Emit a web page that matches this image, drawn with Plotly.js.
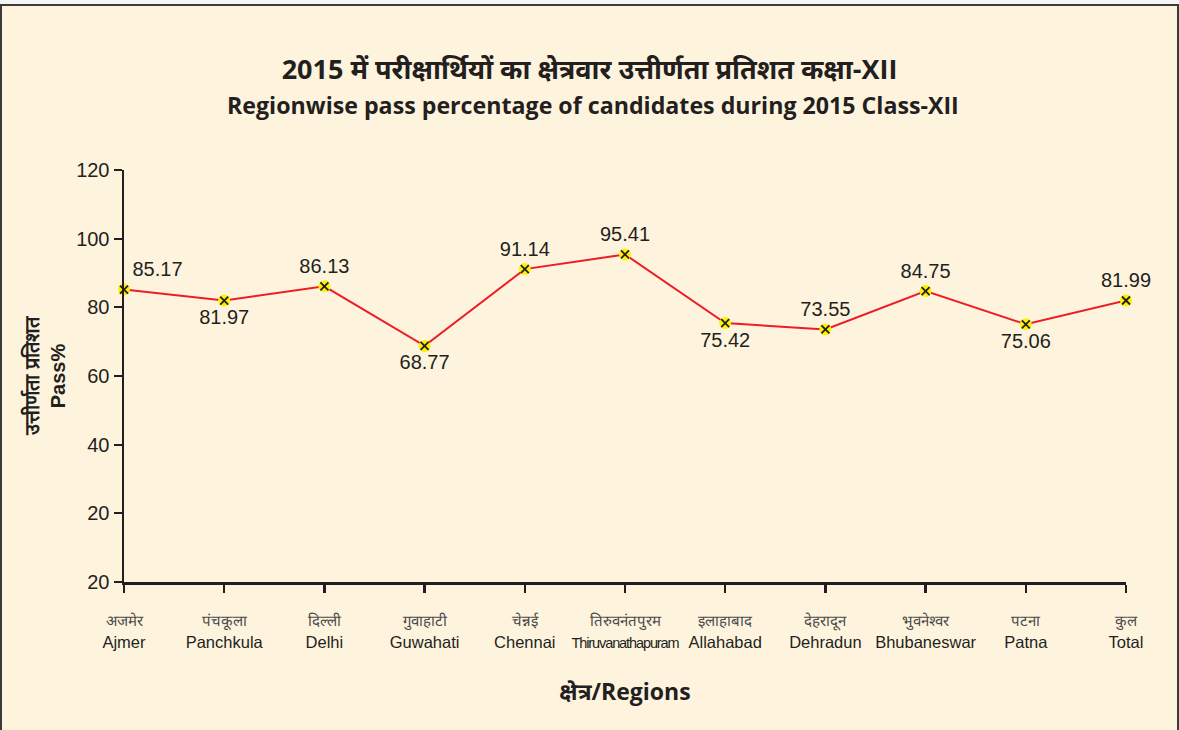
<!DOCTYPE html>
<html>
<head>
<meta charset="utf-8">
<script src="https://cdn.plot.ly/plotly-3.0.1.min.js"></script>
<style>
  html, body { margin: 0; padding: 0; background: #f4f4f4; }
  #wrap { position: relative; width: 1179px; height: 730px; overflow: hidden; }
  #frame { position: absolute; left: 0; top: 4px; width: 1175px; height: 740px;
           background: #fef4de; border: 2px solid #3a3a3a; }
  #chart { position: absolute; left: 0; top: 0; width: 1179px; height: 730px; }
</style>
</head>
<body>
<div id="wrap">
  <div id="frame"></div>
  <div id="chart"></div>
</div>
<script>
// ---- data ----
const regionsHindi = ["अजमेर", "पंचकूला", "दिल्ली", "गुवाहाटी", "चेन्नई", "तिरुवनंतपुरम", "इलाहाबाद", "देहरादून", "भुवनेश्वर", "पटना", "कुल"];
const regionsEnglish = ["Ajmer", "Panchkula", "Delhi", "Guwahati", "Chennai", "Thiruvanathapuram", "Allahabad", "Dehradun", "Bhubaneswar", "Patna", "Total"];
const passPercent = [85.17, 81.97, 86.13, 68.77, 91.14, 95.41, 75.42, 73.55, 84.75, 75.06, 81.99];
const labelPositions = ["top right", "bottom center", "top center", "bottom center", "top center", "top center", "bottom center", "top center", "top center", "bottom center", "top center"];
const yTickValues = [0, 20, 40, 60, 80, 100, 120];
const yTickLabels = ["20", "20", "40", "60", "80", "100", "120"];

const idx = regionsEnglish.map((_, i) => i);
const xTickText = regionsEnglish.map((e, i) => {
  const st = e.length > 12 ? "font-size:14.5px;letter-spacing:-1.1px;" : "";
  return "<span style=\"font-size:15px;color:#4a4a4a\">" + regionsHindi[i] + "</span><br><span style=\"" + st + "\">" + e + "</span>";
});

const textColor = "#231f20";
const sansFont = "Liberation Sans, Arial, sans-serif";
const boldFont = "Open Sans, Noto Sans, sans-serif";

const traces = [
  {
    x: idx, y: passPercent, type: "scatter", mode: "lines+markers+text",
    line: { color: "#ee1c25", width: 2 },
    marker: { symbol: "circle", size: 12, color: "#fff200", line: { width: 0 } },
    text: passPercent.map(v => v.toFixed(2)),
    textposition: labelPositions,
    textfont: { family: sansFont, size: 20, color: textColor },
    hoverinfo: "x+y", cliponaxis: false, showlegend: false
  },
  {
    x: idx, y: passPercent, type: "scatter", mode: "markers",
    marker: { symbol: "x-thin-open", size: 8, color: "#231f20", line: { width: 1.8, color: "#231f20" } },
    hoverinfo: "skip", cliponaxis: false, showlegend: false
  }
];

const layout = {
  width: 1179, height: 730,
  paper_bgcolor: "rgba(0,0,0,0)", plot_bgcolor: "rgba(0,0,0,0)",
  margin: { l: 124, r: 53, t: 170, b: 148, pad: 0 },
  font: { family: sansFont, color: textColor },
  title: {
    text: "<b>2015 में परीक्षार्थियों का क्षेत्रवार उत्तीर्णता प्रतिशत कक्षा-XII</b>",
    font: { family: boldFont, size: 27, color: textColor },
    x: 0.5, xref: "container", xanchor: "center",
    y: 1 - 70 / 730, yref: "container", yanchor: "middle"
  },
  annotations: [
    {
      text: "<b>Regionwise pass percentage of candidates during 2015 Class-XII</b>",
      font: { family: boldFont, size: 23.2, color: textColor },
      xref: "paper", yref: "paper", x: (593 - 124) / 1002, y: 1 + (170 - 105) / 412,
      xanchor: "center", yanchor: "middle", showarrow: false
    }
  ],
  xaxis: {
    range: [0, 10], tickmode: "array", tickvals: idx, ticktext: xTickText,
    tickangle: 0, ticklabelstandoff: 14,
    showline: true, linecolor: "#231f20", linewidth: 2.5,
    ticks: "outside", ticklen: 8, tickwidth: 2.5, tickcolor: "#231f20",
    showgrid: false, zeroline: false, fixedrange: true,
    tickfont: { family: sansFont, size: 16.5, color: textColor },
    title: { text: "<b>क्षेत्र/Regions</b>", font: { family: boldFont, size: 23, color: textColor }, standoff: 34 }
  },
  yaxis: {
    range: [0, 120], tickmode: "array", tickvals: yTickValues, ticktext: yTickLabels,
    showline: true, linecolor: "#231f20", linewidth: 2.5,
    ticks: "outside", ticklen: 8, tickwidth: 2, tickcolor: "#231f20",
    showgrid: false, zeroline: false, fixedrange: true,
    tickfont: { family: sansFont, size: 20, color: textColor },
    title: { text: "<b>उत्तीर्णता प्रतिशत<br>Pass%</b>", font: { family: sansFont, size: 20, color: textColor }, standoff: 5 }
  }
};

Plotly.newPlot("chart", traces, layout, { displayModeBar: false, staticPlot: true });
</script>
</body>
</html>
